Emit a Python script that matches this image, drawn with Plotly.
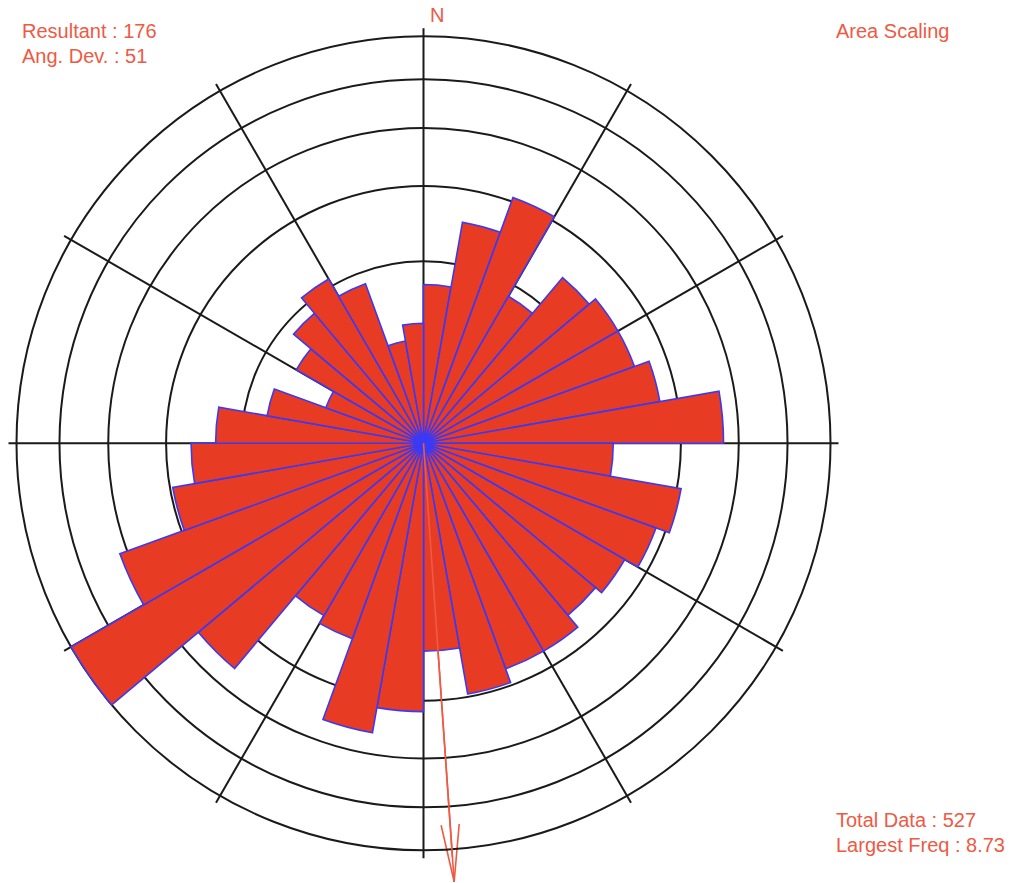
import math
import plotly.graph_objects as go

# Rose diagram of 527 azimuths, 10-degree bins, area scaling (radius ~ sqrt(freq))
bin_start = list(range(0, 360, 10))
counts = [7, 14, 19, 8, 13, 14, 14, 16, 25, 10, 19, 17, 15, 14, 16, 16, 18, 12,
          20, 24, 12, 11, 24, 46, 29, 18, 15, 12, 7, 3, 6, 8, 10, 8, 3, 4]
resultant_deg = 176
ang_dev = 51
ring_fractions = [0.2, 0.4, 0.6, 0.8, 1.0]

total = sum(counts)
freq = [100.0 * c / total for c in counts]
largest = max(freq)
r_bar = [math.sqrt(f) for f in freq]
r_out = math.sqrt(largest)

# geometry (pixels of the 1014x883 page)
W, H = 1014, 883
cx, cy = 423.5, 443.3
ring_px = 407.0
axis_px = 415.0
arrow_px = 439.5
head_px = 58.0
head_half_angle = 9.0

unit = r_out / ring_px
r_axis = axis_px * unit
r_arrow = arrow_px * unit

BAR_FILL = "#E83B24"
BAR_EDGE = "#3A3AF5"
TEXT_RED = "#EE5A44"
GRID = "#1a1a1a"

fig = go.Figure()

# resultant arrow on a full-page cartesian frame sharing the polar units
th = math.radians(resultant_deg)
ux, uy = math.sin(th), math.cos(th)
tip = (r_arrow * ux, r_arrow * uy)
head_len = head_px * unit
ax_x, ax_y = [0, tip[0], None], [0, tip[1], None]
for s in (-1, 1):
    a = math.radians(s * head_half_angle)
    bx = -ux * math.cos(a) + uy * math.sin(a)
    by = -ux * math.sin(a) - uy * math.cos(a)
    ax_x += [tip[0] + head_len * bx, tip[0], None]
    ax_y += [tip[1] + head_len * by, tip[1], None]
fig.add_trace(go.Scatter(
    x=ax_x, y=ax_y, mode="lines",
    line=dict(color=TEXT_RED, width=1.6),
    hoverinfo="skip", xaxis="x", yaxis="y",
))

fig.add_trace(go.Barpolar(
    r=r_bar,
    theta=[b + 5 for b in bin_start],
    width=[10] * len(bin_start),
    marker=dict(color=BAR_FILL, line=dict(color=BAR_EDGE, width=1.6)),
    hoverinfo="skip",
))

# shaft again on top of the bars, inside the polar frame
fig.add_trace(go.Scatterpolar(
    r=[0, r_axis], theta=[resultant_deg, resultant_deg], mode="lines",
    line=dict(color=TEXT_RED, width=1.6), hoverinfo="skip",
))

# polar domain sized so the axis range ends at axis_px around the centre
dom_x = [(cx - axis_px) / W, (cx + axis_px) / W]
cyb = H - cy
dom_y = [(cyb - axis_px) / H, (cyb + axis_px) / H]

fig.update_layout(
    width=W, height=H,
    margin=dict(l=0, r=0, t=0, b=0),
    paper_bgcolor="white",
    plot_bgcolor="rgba(0,0,0,0)",
    showlegend=False,
    xaxis=dict(range=[-cx * unit, (W - cx) * unit], visible=False, fixedrange=True),
    yaxis=dict(range=[-(H - cy) * unit, cy * unit], visible=False, fixedrange=True),
    polar=dict(
        domain=dict(x=dom_x, y=dom_y),
        bgcolor="rgba(0,0,0,0)",
        bargap=0,
        radialaxis=dict(
            range=[0, r_axis],
            tickvals=[math.sqrt(largest * f) for f in ring_fractions],
            showticklabels=False, ticks="", showline=False,
            showgrid=True, gridcolor=GRID, gridwidth=1.7,
            layer="below traces",
        ),
        angularaxis=dict(
            direction="clockwise", rotation=90,
            tickmode="linear", tick0=0, dtick=30,
            showticklabels=False, ticks="", showline=False,
            showgrid=True, gridcolor=GRID, gridwidth=1.7,
            layer="below traces",
        ),
    ),
)

font = dict(family="Liberation Sans, Arial, sans-serif", size=20, color=TEXT_RED)

def label(text, x, y, anchor="left"):
    fig.add_annotation(text=text, x=x / W, y=1 - y / H, xref="paper", yref="paper",
                       xanchor=anchor, yanchor="middle", showarrow=False, font=font)

label("N", 436.5, 15, "center")
label(f"Resultant : {resultant_deg}", 20, 31)
label(f"Ang. Dev. : {ang_dev}", 20, 56)
label("Area Scaling", 834, 31)
label(f"Total Data : {total}", 834, 820)
label(f"Largest Freq : {largest:.2f}", 834, 845)

fig.write_html("out.html")
